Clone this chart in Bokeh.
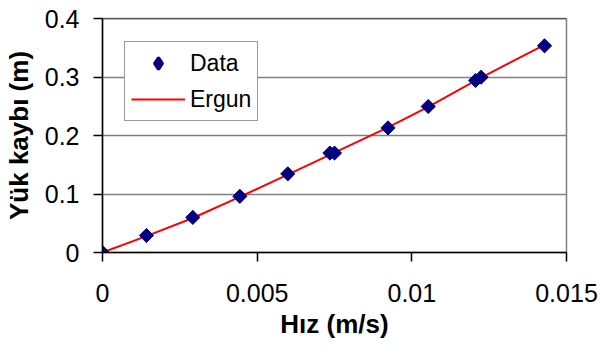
import numpy as np
from bokeh.plotting import figure
from bokeh.models import FixedTicker, Legend, LegendItem, Span
from bokeh.embed import file_html
from bokeh.resources import INLINE

# Data
data_v = [0, 0.00142, 0.00292, 0.00444, 0.00599, 0.00735, 0.00750, 0.00923, 0.01053, 0.01206, 0.01224, 0.01429]
data_h = [0, 0.029, 0.060, 0.096, 0.1345, 0.170, 0.170, 0.213, 0.2496, 0.294, 0.2997, 0.3533]

ergun_v = [0, 0.00142, 0.00292, 0.00444, 0.00599, 0.00743, 0.00923, 0.01053, 0.01206, 0.01224, 0.01429]
ergun_h = [0, 0.028, 0.059, 0.095, 0.133, 0.169, 0.214, 0.249, 0.294, 0.299, 0.355]

x_ticks = [0, 0.005, 0.01, 0.015]
x_tick_labels = ["0", "0.005", "0.01", "0.015"]
y_ticks = [0, 0.1, 0.2, 0.3, 0.4]
y_tick_labels = ["0", "0.1", "0.2", "0.3", "0.4"]

FONT = "Liberation Sans"
NAVY = "#000080"

p = figure(width=600, height=349, output_backend="svg", toolbar_location=None,
           x_range=(0, 0.015), y_range=(0, 0.4),
           min_border_left=102, min_border_right=34, min_border_top=18, min_border_bottom=97)
p.background_fill_color = "white"
p.border_fill_color = "white"
p.outline_line_color = "#808080"
p.outline_line_width = 1.5

# grid
p.xgrid.visible = False
p.ygrid.ticker = FixedTicker(ticks=y_ticks)
p.ygrid.grid_line_color = "#808080"
p.ygrid.grid_line_width = 1.5

top_line = Span(location=0.4, dimension="width", line_color="#333333", line_width=1.5)
p.add_layout(top_line)

# axes
for ax in (p.xaxis[0], p.yaxis[0]):
    ax.axis_line_color = "black"
    ax.axis_line_width = 1.5
    ax.major_tick_line_color = "black"
    ax.major_tick_line_width = 1.5
    ax.major_tick_in = 0
    ax.major_tick_out = 9
    ax.minor_tick_line_color = None
    ax.major_label_text_font = FONT
    ax.major_label_text_font_size = "25px"
    ax.major_label_text_color = "black"
    ax.axis_label_text_font = FONT
    ax.axis_label_text_font_size = "26px"
    ax.axis_label_text_font_style = "bold"
    ax.axis_label_text_color = "black"

p.xaxis.ticker = FixedTicker(ticks=x_ticks)
p.xaxis.major_label_overrides = dict(zip(x_ticks, x_tick_labels))
p.yaxis.ticker = FixedTicker(ticks=y_ticks)
p.yaxis.major_label_overrides = dict(zip(y_ticks, y_tick_labels))
p.xaxis.major_label_standoff = 22
p.yaxis.major_label_standoff = 14
p.xaxis.axis_label = "Hız (m/s)"
p.yaxis.axis_label = "Yük kaybı (m)"
p.xaxis.axis_label_standoff = 4
p.yaxis.axis_label_standoff = 8

line_r = p.line(ergun_v, ergun_h, line_color="#FF0000", line_width=2)
pts_r = p.scatter(data_v, data_h, marker="square", angle=np.pi / 4, size=10,
                  fill_color=NAVY, line_color=NAVY)
# hidden legend proxy so the legend shows an upright diamond
proxy_r = p.scatter(data_v, data_h, marker="diamond", size=12,
                    fill_color=NAVY, line_color=NAVY, line_width=3, visible=False)

legend = Legend(items=[LegendItem(label="Data", renderers=[proxy_r]),
                       LegendItem(label="Ergun", renderers=[line_r])],
                location=(22, 131))
legend.label_text_font = FONT
legend.label_text_font_size = "23px"
legend.label_text_color = "black"
legend.glyph_width = 54
legend.glyph_height = 30
legend.label_height = 30
legend.label_standoff = 5
legend.padding = 6
legend.spacing = 6
legend.margin = 0
legend.border_line_color = "#333333"
legend.border_line_width = 1
legend.background_fill_color = "white"
legend.background_fill_alpha = 1
p.add_layout(legend)

open("out.html", "w").write(file_html(p, INLINE))
